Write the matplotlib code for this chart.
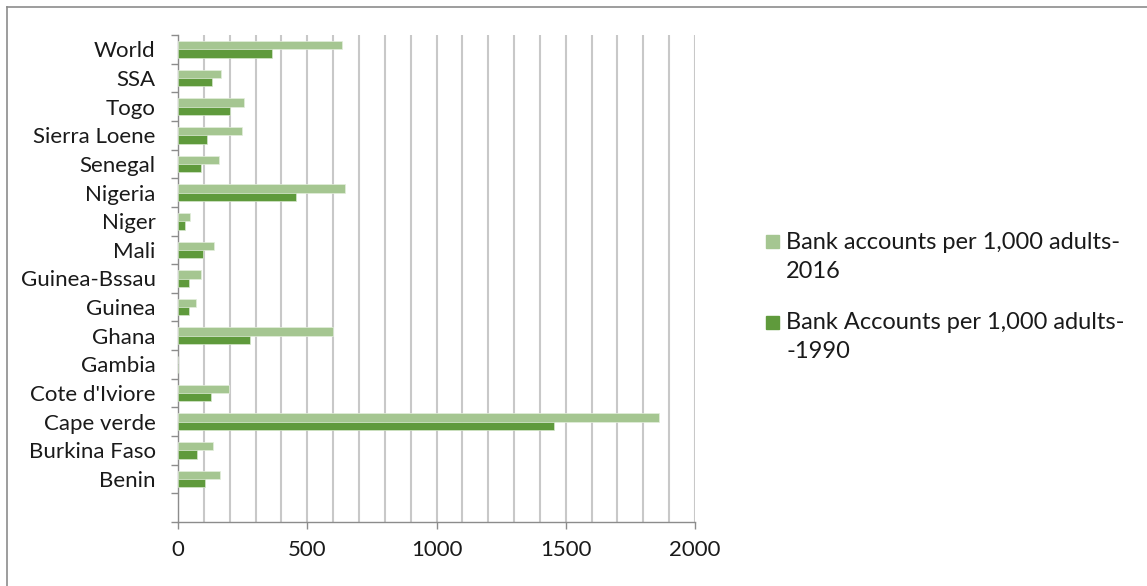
import numpy as np
import matplotlib.pyplot as plt
from matplotlib.lines import Line2D
from matplotlib.patches import Rectangle

# categories, top to bottom as drawn
countries = ["World", "SSA", "Togo", "Sierra Loene", "Senegal", "Nigeria", "Niger",
             "Mali", "Guinea-Bssau", "Guinea", "Ghana", "Gambia", "Cote d'Iviore",
             "Cape verde", "Burkina Faso", "Benin"]
acc_2016 = [636, 165, 254, 249, 160, 646, 46, 139, 90, 70, 599, 0, 197, 1859, 135, 164]
acc_1990 = [364, 132, 200, 111, 90, 458, 27, 95, 41, 41, 279, 0, 129, 1453, 75, 104]

label_2016 = "Bank accounts per 1,000 adults-\n2016"
label_1990 = "Bank Accounts per 1,000 adults-\n-1990"
col_2016 = '#A5C691'
col_1990 = '#5F9A3C'

plt.rcParams['font.family'] = ['Lato', 'DejaVu Sans']

W, H = 1147, 586
fig = plt.figure(figsize=(W / 100, H / 100), dpi=100)
ax = fig.add_axes([178 / W, 1 - 522 / H, 517 / W, 487 / H])

n = len(countries)
y = np.arange(n, 0, -1)  # World at top, one empty slot at the bottom
h = 0.29

ax.barh(y + h / 2, acc_2016, height=h, color=col_2016, edgecolor='#E3EEDC',
        linewidth=0.5, zorder=3)
ax.barh(y - h / 2, acc_1990, height=h, color=col_1990, edgecolor='#D5E6CB',
        linewidth=0.5, zorder=3)

ax.set_xlim(0, 2000)
ax.set_ylim(-0.5, n + 0.5)
ax.set_xticks(np.arange(0, 2001, 500))
ax.set_xticks(np.arange(0, 2001, 100), minor=True)
ax.set_yticks(y)
ax.set_yticklabels(countries)
ax.set_yticks(np.arange(-0.5, n + 0.6, 1), minor=True)

ax.grid(True, axis='x', which='both', color='#C8C8C8', linewidth=1.5, zorder=0)
ax.tick_params(axis='y', which='major', length=0, pad=16, labelsize=16, labelcolor='#1a1a1a')
ax.tick_params(axis='y', which='minor', length=5, width=1, color='#8C8C8C')
ax.tick_params(axis='x', which='major', length=5, width=1, color='#8C8C8C',
               labelsize=16, labelcolor='#1a1a1a', pad=8)
ax.tick_params(axis='x', which='minor', length=0)

for s in ['top', 'right']:
    ax.spines[s].set_visible(False)
for s in ['left', 'bottom']:
    ax.spines[s].set_color('#8C8C8C')
    ax.spines[s].set_linewidth(1)

# legend to the right: square marker next to the first line of each label
for label, col, ytop in [(label_2016, col_2016, 242), (label_1990, col_1990, 322)]:
    fig.patches.append(Rectangle((766 / W, 1 - (ytop + 6.5) / H), 13 / W, 13 / H,
                                 transform=fig.transFigure, color=col))
    fig.text(786 / W, 1 - (ytop + 15) / H, label, fontsize=17, color='#1a1a1a',
             va='center', ha='left', linespacing=1.5)

# outer chart border (top and left edges only are visible)
fig.add_artist(Line2D([7 / W, 1], [1 - 7 / H, 1 - 7 / H], color='#8C8C8C', linewidth=1.2))
fig.add_artist(Line2D([7 / W, 7 / W], [0, 1 - 7 / H], color='#8C8C8C', linewidth=1.2))

fig.savefig('out.png', dpi=100)
